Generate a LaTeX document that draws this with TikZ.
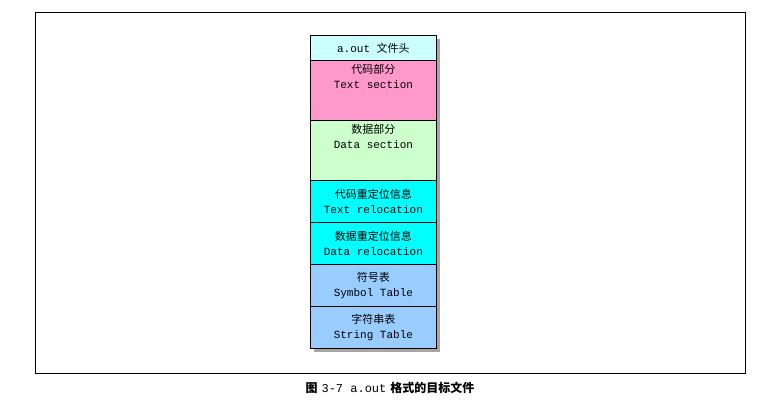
\documentclass[tikz,border=0pt]{standalone}
\usepackage{fontspec}
\setmonofont{Liberation Mono}
\newfontfamily\cjk{Noto Sans CJK SC}
\definecolor{hdr}{HTML}{CCFFFF}
\definecolor{pinkc}{HTML}{FF99CC}
\definecolor{greenc}{HTML}{CCFFCC}
\definecolor{cyanc}{HTML}{00FFFF}
\definecolor{bluec}{HTML}{99CCFF}
\begin{document}
\begin{tikzpicture}[x=1pt,y=-1pt,
  seg/.style={draw=black,line width=0.8pt,minimum width=126pt,inner sep=0pt,anchor=north west,align=center,font=\fontsize{11}{15}\selectfont\ttfamily}]
\useasboundingbox (0,0) rectangle (758,403);
\draw[line width=0.8pt] (35,12) rectangle (745,373);
\fill[gray!70] (314,39) rectangle (440,352);
\node[seg,fill=hdr,minimum height=25pt] (h) at (310,35) {a.out {\cjk 文件头}};
\node[seg,fill=pinkc,minimum height=60pt] (t) at (310,60) {{\cjk 代码部分}\\Text section\\[14pt]};
\node[seg,fill=greenc,minimum height=60pt] (d) at (310,120) {{\cjk 数据部分}\\Data section\\[14pt]};
\node[seg,fill=cyanc,minimum height=42pt] (tr) at (310,180) {{\cjk 代码重定位信息}\\Text relocation};
\node[seg,fill=cyanc,minimum height=42pt] (dr) at (310,222) {{\cjk 数据重定位信息}\\Data relocation};
\node[seg,fill=bluec,minimum height=42pt] (s) at (310,264) {{\cjk 符号表}\\Symbol Table};
\node[seg,fill=bluec,minimum height=42pt] (st) at (310,306) {{\cjk 字符串表}\\String Table};
\node[font=\fontsize{12}{14}\selectfont] (cap) at (390,388) {{\cjk\bfseries 图} {\ttfamily 3-7 a.out} {\cjk\bfseries 格式的目标文件}};
\end{tikzpicture}
\end{document}
